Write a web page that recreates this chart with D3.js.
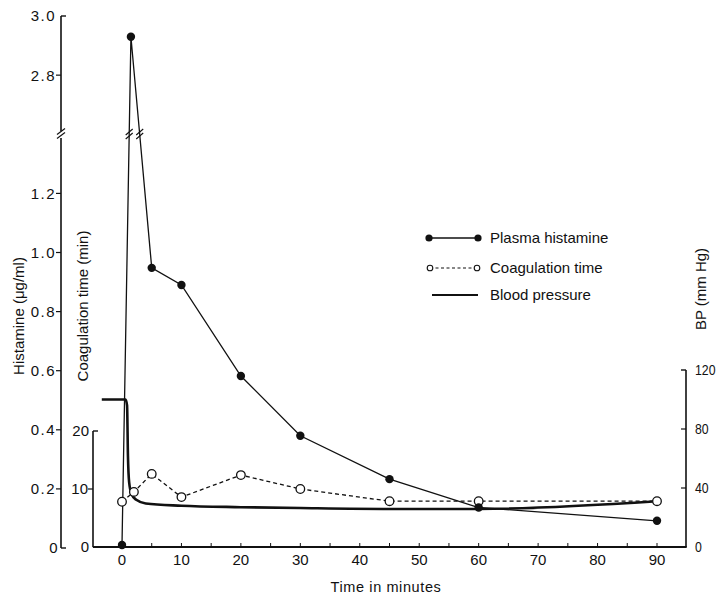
<!DOCTYPE html>
<html>
<head>
<meta charset="utf-8">
<script src="https://cdn.jsdelivr.net/npm/d3@7"></script>
<style>
  body { margin: 0; background: #fff; }
  text { font-family: "Liberation Sans", Arial, sans-serif; fill: #111; }
</style>
</head>
<body>
<div id="chart"></div>
<script>
// minutes after injection
const histTimes = [0, 1.5, 5, 10, 20, 30, 45, 60, 90];
const histValues = [0.01, 2.93, 0.948, 0.89, 0.582, 0.38, 0.233, 0.137, 0.092];

const coagTimes = [0, 2, 5, 10, 20, 30, 45, 60, 90];
const coagValues = [7.8, 9.5, 12.6, 8.6, 12.4, 10.0, 7.9, 7.9, 7.9];

const bpTimes = [-3.4, 0.6, 0.85, 1.0, 1.2, 1.6, 2.4, 4, 10, 20, 30, 45, 60, 90];
const bpValues = [100, 100, 96, 62, 44, 36, 32, 29.5, 28, 27, 26.4, 25.8, 25.8, 31];

const xTickLabels = [0, 10, 20, 30, 40, 50, 60, 70, 80, 90];
const histTickLabels = [0, 0.2, 0.4, 0.6, 0.8, 1.0, 1.2, 2.8, 3.0];
const coagTickLabels = [0, 10, 20];
const bpTickLabels = [0, 40, 80, 120];

const W = 716, H = 597;
const svg = d3.select("#chart").append("svg")
    .attr("width", W).attr("height", H);

const x = d3.scaleLinear().domain([0, 90]).range([122, 657]);
// broken axis: 1.4 .. 2.6 is cut out
const yH = d3.scaleLinear().domain([0, 1.4, 2.6, 3.0]).range([548, 134.3, 134.3, 16]);
const yC = d3.scaleLinear().domain([0, 20]).range([547, 431]);
const yB = d3.scaleLinear().domain([0, 120]).range([547, 370]);

const ink = "#111";

// x axis
const xAxisY = 547;
svg.append("line").attr("x1", x(-4.9)).attr("x2", x(95))
    .attr("y1", xAxisY).attr("y2", xAxisY)
    .attr("stroke", ink).attr("stroke-width", 1.8);
svg.selectAll(".xtick").data(d3.range(0, 95, 5)).enter().append("line")
    .attr("x1", d => x(d)).attr("x2", d => x(d))
    .attr("y1", xAxisY).attr("y2", xAxisY - 4)
    .attr("stroke", ink).attr("stroke-width", 1);
svg.selectAll(".xlab").data(xTickLabels).enter().append("text")
    .attr("x", d => x(d)).attr("y", 565)
    .attr("text-anchor", "middle").attr("font-size", 15)
    .text(d => d);
svg.append("text").attr("x", 386).attr("y", 592)
    .attr("text-anchor", "middle").attr("font-size", 14.5)
    .attr("letter-spacing", 0.6)
    .text("Time in minutes");

// histamine axis (left, broken)
const hx = 61;
svg.append("line").attr("x1", hx).attr("x2", hx).attr("y1", 16).attr("y2", 131)
    .attr("stroke", ink).attr("stroke-width", 1.6);
svg.append("line").attr("x1", hx).attr("x2", hx).attr("y1", 138).attr("y2", 548)
    .attr("stroke", ink).attr("stroke-width", 1.6);
[-3, 1].forEach(dy => {
    svg.append("line").attr("x1", hx - 4).attr("x2", hx + 4)
        .attr("y1", 134.5 + dy + 3).attr("y2", 134.5 + dy - 3)
        .attr("stroke", ink).attr("stroke-width", 1.2);
});
svg.append("line").attr("x1", hx).attr("x2", hx + 5).attr("y1", 16).attr("y2", 16)
    .attr("stroke", ink).attr("stroke-width", 1.4);
svg.append("line").attr("x1", hx).attr("x2", hx + 5).attr("y1", 548).attr("y2", 548)
    .attr("stroke", ink).attr("stroke-width", 1.4);
svg.selectAll(".htick").data(histTickLabels.filter(d => d > 0 && d < 3)).enter().append("line")
    .attr("x1", hx - 5).attr("x2", hx).attr("y1", d => yH(d)).attr("y2", d => yH(d))
    .attr("stroke", ink).attr("stroke-width", 1.2);
svg.selectAll(".hlab").data(histTickLabels).enter().append("text")
    .attr("x", d => d === 0 ? hx - 2 : hx - 5).attr("y", d => yH(d))
    .attr("dy", "0.36em").attr("text-anchor", "end").attr("font-size", 15)
    .attr("letter-spacing", 1.5)
    .text(d => d === 0 ? "0" : d3.format(".1f")(d));
svg.append("text")
    .attr("transform", "translate(24,316) rotate(-90)")
    .attr("text-anchor", "middle").attr("font-size", 15)
    .text("Histamine (\u03bcg/ml)");

// coagulation axis
const cx = 93;
svg.append("line").attr("x1", cx).attr("x2", cx).attr("y1", yC(20)).attr("y2", yC(0))
    .attr("stroke", ink).attr("stroke-width", 1.6);
svg.append("line").attr("x1", cx).attr("x2", cx + 5).attr("y1", yC(20)).attr("y2", yC(20))
    .attr("stroke", ink).attr("stroke-width", 1.4);
svg.append("line").attr("x1", cx - 5).attr("x2", cx).attr("y1", yC(10)).attr("y2", yC(10))
    .attr("stroke", ink).attr("stroke-width", 1.2);
svg.selectAll(".clab").data(coagTickLabels).enter().append("text")
    .attr("x", d => d === 10 ? cx - 5 : cx - 4).attr("y", d => yC(d))
    .attr("dy", "0.36em").attr("text-anchor", "end").attr("font-size", 15)
    .text(d => d);
svg.append("text")
    .attr("transform", "translate(88,306) rotate(-90)")
    .attr("text-anchor", "middle").attr("font-size", 15)
    .text("Coagulation time (min)");

// blood pressure axis (right)
const bx = 686;
svg.append("line").attr("x1", bx).attr("x2", bx).attr("y1", yB(120)).attr("y2", yB(0))
    .attr("stroke", ink).attr("stroke-width", 1.6);
svg.append("line").attr("x1", bx - 5).attr("x2", bx).attr("y1", yB(120)).attr("y2", yB(120))
    .attr("stroke", ink).attr("stroke-width", 1.4);
svg.selectAll(".btick").data(bpTickLabels.filter(d => d > 0 && d < 120)).enter().append("line")
    .attr("x1", bx - 5).attr("x2", bx).attr("y1", d => yB(d)).attr("y2", d => yB(d))
    .attr("stroke", ink).attr("stroke-width", 1.2);
// numbers on this side are set narrow so "120" fits inside the page
svg.selectAll(".blab").data(bpTickLabels).enter().append("text")
    .attr("transform", d => "translate(" + (bx + 9) + "," + yB(d) + ") scale(0.82,1)")
    .attr("dy", "0.36em").attr("font-size", 15)
    .text(d => d);
svg.append("text")
    .attr("transform", "translate(706,289) rotate(-90)")
    .attr("text-anchor", "middle").attr("font-size", 15)
    .text("BP (mm Hg)");

// blood pressure trace
const bpData = bpTimes.map((t, i) => [t, bpValues[i]]);
svg.append("path").datum(bpData)
    .attr("d", d3.line().x(d => x(d[0])).y(d => yB(d[1])).curve(d3.curveMonotoneX))
    .attr("fill", "none").attr("stroke", ink).attr("stroke-width", 2.6);

// coagulation time
const coagData = coagTimes.map((t, i) => [t, coagValues[i]]);
svg.append("path").datum(coagData)
    .attr("d", d3.line().x(d => x(d[0])).y(d => yC(d[1])))
    .attr("fill", "none").attr("stroke", ink).attr("stroke-width", 1.3)
    .attr("stroke-dasharray", "4,3");

// plasma histamine
const histData = histTimes.map((t, i) => [t, histValues[i]]);
svg.append("path").datum(histData)
    .attr("d", d3.line().x(d => x(d[0])).y(d => yH(d[1])))
    .attr("fill", "none").attr("stroke", ink).attr("stroke-width", 1.3);

// break marks on the histamine lines
[[0, 1], [1, 2]].forEach(([a, b]) => {
    const p = histData[a], q = histData[b];
    const x1 = x(p[0]), y1 = yH(p[1]), x2 = x(q[0]), y2 = yH(q[1]);
    const f = (134.5 - y1) / (y2 - y1);
    const mx = x1 + f * (x2 - x1);
    [-2.5, 1.5].forEach(dy => {
        svg.append("line").attr("x1", mx - 3.5).attr("x2", mx + 3.5)
            .attr("y1", 134.5 + dy + 3).attr("y2", 134.5 + dy - 3)
            .attr("stroke", ink).attr("stroke-width", 1.1);
    });
});

svg.selectAll(".cdot").data(coagData).enter().append("circle")
    .attr("cx", d => x(d[0])).attr("cy", d => yC(d[1])).attr("r", 4.3)
    .attr("fill", "#fff").attr("stroke", ink).attr("stroke-width", 1.3);
svg.selectAll(".hdot").data(histData).enter().append("circle")
    .attr("cx", d => x(d[0])).attr("cy", d => yH(d[1])).attr("r", 4.2)
    .attr("fill", ink);

// legend
const lg = svg.append("g");
lg.append("line").attr("x1", 429).attr("x2", 478).attr("y1", 238).attr("y2", 238)
    .attr("stroke", ink).attr("stroke-width", 1.3);
[429, 478].forEach(px => lg.append("circle").attr("cx", px).attr("cy", 238).attr("r", 3.6).attr("fill", ink));
lg.append("text").attr("x", 490).attr("y", 238).attr("dy", "0.36em").attr("font-size", 15)
    .text("Plasma histamine");

lg.append("line").attr("x1", 430).attr("x2", 477).attr("y1", 268).attr("y2", 268)
    .attr("stroke", ink).attr("stroke-width", 1.2).attr("stroke-dasharray", "3,2.5");
[430, 477].forEach(px => lg.append("circle").attr("cx", px).attr("cy", 268).attr("r", 2.8)
    .attr("fill", "#fff").attr("stroke", ink).attr("stroke-width", 1.1));
lg.append("text").attr("x", 490).attr("y", 268).attr("dy", "0.36em").attr("font-size", 15)
    .text("Coagulation time");

lg.append("line").attr("x1", 432).attr("x2", 478).attr("y1", 295).attr("y2", 295)
    .attr("stroke", ink).attr("stroke-width", 2);
lg.append("text").attr("x", 490).attr("y", 295).attr("dy", "0.36em").attr("font-size", 15)
    .text("Blood pressure");
</script>
</body>
</html>
